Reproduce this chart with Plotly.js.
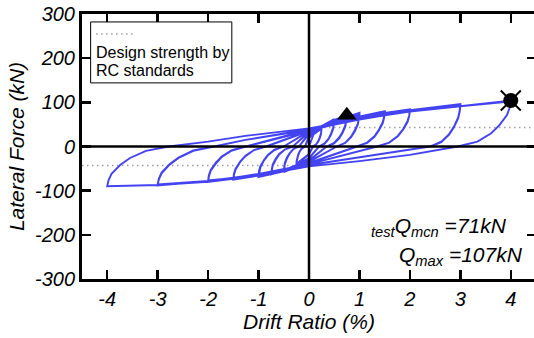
<!DOCTYPE html>
<html>
<head>
<meta charset="utf-8">
<script src="https://cdn.plot.ly/plotly-3.0.1.min.js"></script>
<style>
html, body { margin:0; padding:0; overflow:hidden; background:#fff; }
#chart { width:536px; height:338px; }
#chart .xtick text, #chart .ytick text, #chart .xtick tspan, #chart .ytick tspan { font-style: italic !important; }
</style>
</head>
<body>
<div id="chart"></div>
<script>
// ---- Data (drift ratio in %, lateral force in kN) ----
const xTicks = [-4, -3, -2, -1, 0, 1, 2, 3, 4];
const yTicks = [-300, -200, -100, 0, 100, 200, 300];

// hysteresis path, split by drift amplitude
const driftA025 = [0, 0.1, 0.25, 0.247, 0.238, 0.214, 0.187, 0.143, 0.08, 0, -0.25, -0.247, -0.238, -0.214, -0.187, -0.143, -0.08, 0, 0.25, 0.247, 0.238, 0.214, 0.187, 0.143, 0.08, 0, -0.25];
const forceA025 = [0, 30, 44, 37, 30, 21, 13, 5, 0, -18, -42, -36, -29, -20, -12, -5, 0, 20, 41, 35, 28, 19, 12, 5, 0, -17, -39];

const driftA05 = [-0.25, -0.247, -0.238, -0.214, -0.187, -0.143, -0.08, 0, 0.25, 0.5, 0.494, 0.479, 0.437, 0.389, 0.311, 0.2, 0, -0.25, -0.5, -0.494, -0.479, -0.437, -0.389, -0.311, -0.2, 0, 0.25, 0.5, 0.494, 0.479, 0.437, 0.389, 0.311, 0.2, 0, -0.25, -0.5];
const forceA05 = [-39, -33, -27, -18, -11, -4, 0, 24, 46, 62, 53, 43, 29, 18, 7, 0, -27, -46, -58, -49, -40, -27, -17, -6, 0, 28, 47, 58, 49, 40, 27, 17, 6, 0, -26, -43, -54];

const driftA075 = [-0.5, -0.494, -0.479, -0.437, -0.389, -0.311, -0.2, 0, 0.4, 0.75, 0.742, 0.722, 0.666, 0.602, 0.498, 0.35, 0, -0.4, -0.75, -0.741, -0.72, -0.66, -0.591, -0.479, -0.32, 0, 0.4, 0.75, 0.742, 0.722, 0.666, 0.602, 0.498, 0.35, 0, -0.4, -0.75];
const forceA075 = [-54, -46, -37, -25, -16, -6, 0, 30, 56, 71, 60, 49, 33, 21, 8, 0, -32, -51, -63, -54, -43, -30, -18, -7, 0, 32, 54, 67, 57, 46, 31, 19, 7, 0, -31, -49, -60];

const driftA1 = [-0.75, -0.741, -0.72, -0.66, -0.591, -0.479, -0.32, 0, 0.5, 1, 0.991, 0.969, 0.906, 0.834, 0.717, 0.55, 0, -0.5, -1, -0.99, -0.965, -0.895, -0.815, -0.685, -0.5, 0, 0.5, 1, 0.991, 0.969, 0.906, 0.834, 0.717, 0.55, 0, -0.5, -1];
const forceA1 = [-60, -51, -41, -28, -17, -7, 0, 33, 58, 76, 65, 52, 36, 22, 8, 0, -35, -56, -69, -59, -48, -32, -20, -8, 0, 34, 57, 72, 61, 50, 34, 21, 8, 0, -34, -54, -65];

const driftA15 = [-1, -0.99, -0.965, -0.895, -0.815, -0.685, -0.5, 0, 0.75, 1.5, 1.489, 1.462, 1.385, 1.297, 1.153, 0.95, 0, -0.75, -1.5, -1.487, -1.455, -1.364, -1.26, -1.09, -0.85, 0, 0.75, 1.5, 1.489, 1.462, 1.385, 1.297, 1.153, 0.95, 0, -0.75, -1.5];
const forceA15 = [-65, -55, -45, -31, -19, -7, 0, 35, 62, 80, 68, 55, 38, 23, 9, 0, -38, -61, -75, -64, -52, -35, -22, -8, 0, 35, 60, 77, 65, 53, 36, 22, 8, 0, -37, -59, -72];

const driftA2 = [-1.5, -1.487, -1.455, -1.364, -1.26, -1.09, -0.85, 0, 1, 1.5, 2, 1.987, 1.955, 1.864, 1.76, 1.59, 1.35, 0, -1, -1.5, -2, -1.985, -1.948, -1.843, -1.723, -1.528, -1.25, 0, 1, 1.5, 2, 1.987, 1.955, 1.864, 1.76, 1.59, 1.35, 0, -1, -1.5, -2];
const forceA2 = [-72, -61, -50, -34, -21, -8, 0, 36, 64, 76, 84, 71, 58, 39, 24, 9, 0, -40, -64, -73, -80, -68, -55, -38, -23, -9, 0, 36, 63, 74, 81, 69, 56, 38, 23, 9, 0, -40, -62, -71, -77];

const driftA3 = [-2, -1.985, -1.948, -1.843, -1.723, -1.528, -1.25, 0, 1, 2, 3, 2.988, 2.958, 2.874, 2.778, 2.622, 2.4, 1.2, 0, -1, -2, -3, -2.978, -2.922, -2.765, -2.586, -2.294, -1.88, -1.26, 0, 1, 2, 3, 2.988, 2.958, 2.874, 2.778, 2.622, 2.4, 1.2, 0, -1, -2, -3];
const forceA3 = [-77, -65, -53, -36, -22, -8, 0, 38, 62, 82, 96, 82, 66, 45, 28, 11, 0, -21, -42, -64, -79, -88, -75, -61, -41, -26, -10, 0, 15, 38, 61, 80, 93, 79, 64, 44, 27, 10, 0, -21, -42, -63, -78, -86];

const driftA4 = [-3, -2.978, -2.922, -2.765, -2.586, -2.294, -1.88, -1.26, 0, 1, 2, 3, 4, 3.979, 3.927, 3.78, 3.612, 3.339, 2.95, 2, 1, 0, -1, -2, -3, -4, -3.976, -3.915, -3.744, -3.549, -3.231, -2.78, -2, -1.26, 0, 1, 2, 3, 4];
const forceA4 = [-86, -73, -59, -40, -25, -9, 0, 15, 39, 62, 79, 92, 104, 88, 72, 49, 30, 11, 0, -19, -33, -45, -66, -80, -87, -90, -77, -62, -42, -26, -10, 0, 11, 24, 41, 62, 79, 91, 102];

// design strength by RC standards (dotted)
const designPosDrift = [0, 4.5];
const designPosForce = [43, 43];
const designNegDrift = [-4.5, 0];
const designNegForce = [-43, -43];

// key points
const mcnDrift = [0.75];  const mcnForce = [71];    // testQmcn = 71 kN
const maxDrift = [4.0];   const maxForce = [104];   // Qmax = 107 kN

const driftAll = [].concat(driftA025, driftA05, driftA075, driftA1, driftA15, driftA2, driftA3, driftA4);
const forceAll = [].concat(forceA025, forceA05, forceA075, forceA1, forceA15, forceA2, forceA3, forceA4);

const BLUE = '#4343F2';
const GREY = '#a0a0a0';
const FONT = 'Liberation Sans, Arial, Helvetica, sans-serif';

const traces = [
  {x: designPosDrift, y: designPosForce, mode:'lines', line:{color:GREY, width:1.5, dash:'1.5px,3.5px'}, hoverinfo:'skip'},
  {x: designNegDrift, y: designNegForce, mode:'lines', line:{color:GREY, width:1.5, dash:'1.5px,3.5px'}, hoverinfo:'skip'},
  {x: driftAll, y: forceAll, mode:'lines', line:{color:BLUE, width:1.9}, hoverinfo:'skip'},
  {x: mcnDrift, y: mcnForce, mode:'markers', marker:{symbol:'triangle-up', size:17, color:'black'}},
  {x: maxDrift, y: maxForce, mode:'markers', marker:{symbol:'circle', size:15, color:'black'}},
  {x: maxDrift, y: maxForce, mode:'markers', marker:{symbol:'x-thin-open', size:20, color:'black', line:{color:'black', width:2}}}
];

const axisCommon = {
  ticks:'inside', ticklen:9, tickwidth:2.5, tickcolor:'black',
  showline:true, linewidth:3, linecolor:'black', mirror:'ticks',
  showgrid:false, zeroline:false,
  tickfont:{family:FONT, size:20, color:'black', style:'italic'}
};

const layout = {
  width:536, height:338,
  margin:{l:82, r:0, t:14, b:59, pad:0},
  paper_bgcolor:'white', plot_bgcolor:'white',
  showlegend:false,
  font:{family:FONT, color:'black'},
  xaxis: Object.assign({}, axisCommon, {
    range:[-4.5, 4.5], tickvals:xTicks, ticktext:xTicks.map(String),
    title:{text:'Drift Ratio (%)', font:{family:FONT, size:21, color:'black', style:'italic'}, standoff:6}
  }),
  yaxis: Object.assign({}, axisCommon, {
    range:[-300, 300], tickvals:yTicks, ticktext:yTicks.map(String),
    title:{text:'Lateral Force (kN)', font:{family:FONT, size:21, color:'black', style:'italic'}, standoff:5}
  }),
  shapes:[
    {type:'line', xref:'x', yref:'y', x0:-4.5, x1:4.5, y0:0, y1:0, line:{color:'black', width:2.5}, layer:'above'},
    {type:'line', xref:'x', yref:'y', x0:0, x1:0, y0:-300, y1:300, line:{color:'black', width:2.5}, layer:'above'},
    {type:'rect', xref:'paper', yref:'paper', x0:0.019, x1:0.33, y0:0.74, y1:0.97, line:{color:'black', width:1}, fillcolor:'white', layer:'above'},
    {type:'line', xref:'paper', yref:'paper', x0:0.031, x1:0.117, y0:0.925, y1:0.925, line:{color:GREY, width:1.5, dash:'1.5px,3.5px'}, layer:'above'}
  ],
  annotations:[
    {xref:'paper', yref:'paper', x:0.026, y:0.854, xanchor:'left', yanchor:'middle', showarrow:false, text:'Design strength by', font:{family:FONT, size:16, color:'black'}},
    {xref:'paper', yref:'paper', x:0.026, y:0.786, xanchor:'left', yanchor:'middle', showarrow:false, text:'RC standards', font:{family:FONT, size:16, color:'black'}},
    {xref:'paper', yref:'paper', x:0.94, y:0.195, xanchor:'right', yanchor:'middle', showarrow:false, text:'<sub>test</sub>Q<sub>mcn</sub> =71kN', font:{family:FONT, size:21, color:'black', style:'italic'}},
    {xref:'paper', yref:'paper', x:0.975, y:0.086, xanchor:'right', yanchor:'middle', showarrow:false, text:'Q<sub>max</sub> =107kN', font:{family:FONT, size:21, color:'black', style:'italic'}}
  ]
};

Plotly.newPlot('chart', traces, layout, {displayModeBar:false, staticPlot:true});
</script>
</body>
</html>
